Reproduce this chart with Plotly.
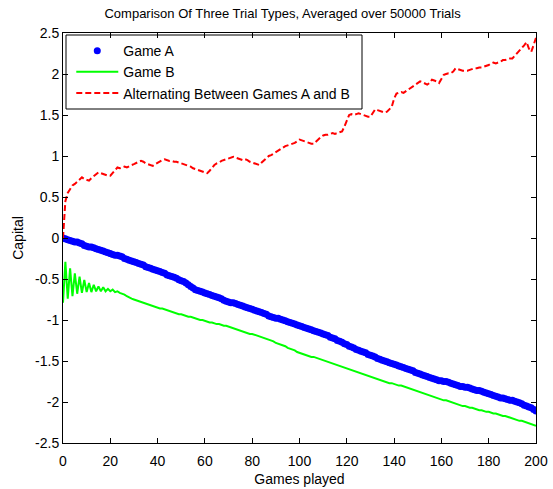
import plotly.graph_objects as go

games = list(range(201))

game_a = [
    0.00, -0.01, -0.02, -0.03, -0.04, -0.05, -0.05, -0.06, -0.07, -0.09,
    -0.10, -0.11, -0.11, -0.12, -0.13, -0.14, -0.15, -0.16, -0.17, -0.18,
    -0.19, -0.20, -0.21, -0.21, -0.22, -0.23, -0.25, -0.26, -0.27, -0.28,
    -0.29, -0.30, -0.31, -0.32, -0.33, -0.35, -0.36, -0.37, -0.38, -0.39,
    -0.40, -0.41, -0.42, -0.43, -0.45, -0.46, -0.47, -0.48, -0.49, -0.51,
    -0.52, -0.53, -0.55, -0.57, -0.59, -0.61, -0.63, -0.64, -0.65, -0.66,
    -0.67, -0.68, -0.69, -0.70, -0.71, -0.72, -0.73, -0.74, -0.76, -0.77,
    -0.78, -0.79, -0.79, -0.80, -0.81, -0.82, -0.83, -0.84, -0.85, -0.86,
    -0.87, -0.88, -0.89, -0.90, -0.91, -0.92, -0.93, -0.95, -0.96, -0.97,
    -0.98, -0.98, -0.99, -1.00, -1.01, -1.02, -1.03, -1.04, -1.05, -1.06,
    -1.07, -1.08, -1.09, -1.10, -1.11, -1.12, -1.13, -1.14, -1.15, -1.16,
    -1.17, -1.18, -1.19, -1.21, -1.22, -1.23, -1.25, -1.26, -1.27, -1.29,
    -1.30, -1.32, -1.33, -1.34, -1.36, -1.37, -1.38, -1.39, -1.40, -1.42,
    -1.43, -1.44, -1.45, -1.47, -1.48, -1.49, -1.50, -1.51, -1.52, -1.53,
    -1.54, -1.55, -1.56, -1.57, -1.58, -1.59, -1.60, -1.61, -1.62, -1.64,
    -1.65, -1.66, -1.67, -1.68, -1.69, -1.70, -1.71, -1.72, -1.73, -1.74,
    -1.74, -1.75, -1.75, -1.76, -1.77, -1.78, -1.79, -1.80, -1.81, -1.81,
    -1.82, -1.82, -1.83, -1.84, -1.85, -1.86, -1.86, -1.87, -1.88, -1.89,
    -1.90, -1.91, -1.92, -1.93, -1.94, -1.95, -1.95, -1.96, -1.97, -1.98,
    -1.98, -1.99, -2.00, -2.01, -2.02, -2.04, -2.05, -2.06, -2.07, -2.09,
    -2.11,
]

game_b = [
    -0.79, -0.29, -0.74, -0.37, -0.71, -0.43, -0.68, -0.47, -0.67, -0.51,
    -0.66, -0.55, -0.66, -0.57, -0.65, -0.59, -0.65, -0.60, -0.65, -0.62,
    -0.65, -0.63, -0.66, -0.65, -0.67, -0.68, -0.69, -0.71, -0.73, -0.74,
    -0.75, -0.76, -0.77, -0.78, -0.79, -0.80, -0.81, -0.82, -0.83, -0.84,
    -0.85, -0.86, -0.86, -0.87, -0.88, -0.89, -0.90, -0.91, -0.92, -0.93,
    -0.93, -0.94, -0.95, -0.96, -0.96, -0.97, -0.98, -0.99, -1.00, -1.00,
    -1.01, -1.02, -1.03, -1.03, -1.04, -1.05, -1.05, -1.06, -1.07, -1.07,
    -1.08, -1.09, -1.10, -1.11, -1.12, -1.13, -1.14, -1.15, -1.16, -1.17,
    -1.17, -1.18, -1.19, -1.20, -1.21, -1.22, -1.23, -1.24, -1.25, -1.26,
    -1.28, -1.29, -1.30, -1.31, -1.32, -1.34, -1.35, -1.36, -1.37, -1.39,
    -1.40, -1.41, -1.42, -1.43, -1.44, -1.45, -1.45, -1.46, -1.47, -1.48,
    -1.49, -1.50, -1.51, -1.52, -1.53, -1.54, -1.55, -1.56, -1.57, -1.58,
    -1.59, -1.60, -1.61, -1.62, -1.63, -1.64, -1.65, -1.66, -1.67, -1.68,
    -1.69, -1.70, -1.71, -1.72, -1.73, -1.74, -1.75, -1.76, -1.77, -1.77,
    -1.78, -1.79, -1.80, -1.80, -1.81, -1.82, -1.83, -1.84, -1.85, -1.86,
    -1.87, -1.88, -1.89, -1.90, -1.91, -1.92, -1.93, -1.94, -1.95, -1.96,
    -1.97, -1.98, -1.98, -1.99, -2.00, -2.01, -2.02, -2.03, -2.04, -2.05,
    -2.05, -2.06, -2.07, -2.07, -2.08, -2.09, -2.10, -2.10, -2.11, -2.12,
    -2.12, -2.13, -2.14, -2.14, -2.15, -2.16, -2.17, -2.17, -2.18, -2.19,
    -2.20, -2.21, -2.22, -2.23, -2.23, -2.24, -2.25, -2.26, -2.27, -2.28,
    -2.29,
]

alternating = [
    0.00, 0.45, 0.55, 0.60, 0.64, 0.66, 0.69, 0.71, 0.74, 0.72,
    0.71, 0.70, 0.73, 0.75, 0.77, 0.80, 0.79, 0.78, 0.77, 0.76,
    0.76, 0.79, 0.83, 0.86, 0.85, 0.86, 0.87, 0.86, 0.88, 0.89,
    0.90, 0.92, 0.93, 0.94, 0.93, 0.91, 0.90, 0.89, 0.88, 0.90,
    0.92, 0.94, 0.95, 0.96, 0.95, 0.94, 0.94, 0.93, 0.93, 0.92,
    0.91, 0.90, 0.89, 0.88, 0.87, 0.85, 0.84, 0.83, 0.82, 0.81,
    0.80, 0.79, 0.82, 0.86, 0.89, 0.91, 0.92, 0.94, 0.95, 0.96,
    0.97, 0.98, 0.99, 0.98, 0.97, 0.96, 0.95, 0.96, 0.95, 0.93,
    0.92, 0.91, 0.90, 0.89, 0.92, 0.95, 0.98, 1.00, 1.01, 1.03,
    1.05, 1.06, 1.08, 1.10, 1.12, 1.13, 1.14, 1.15, 1.16, 1.18,
    1.20, 1.19, 1.18, 1.17, 1.16, 1.15, 1.15, 1.18, 1.21, 1.23,
    1.25, 1.26, 1.26, 1.27, 1.28, 1.27, 1.28, 1.29, 1.30, 1.36,
    1.44, 1.50, 1.51, 1.50, 1.51, 1.52, 1.51, 1.50, 1.49, 1.48,
    1.48, 1.52, 1.57, 1.56, 1.55, 1.54, 1.53, 1.54, 1.57, 1.60,
    1.70, 1.76, 1.77, 1.78, 1.77, 1.79, 1.81, 1.83, 1.85, 1.87,
    1.89, 1.91, 1.90, 1.88, 1.87, 1.89, 1.93, 1.92, 1.91, 1.89,
    1.95, 1.99, 2.00, 2.01, 2.01, 2.03, 2.07, 2.06, 2.05, 2.04,
    2.04, 2.04, 2.05, 2.06, 2.07, 2.07, 2.08, 2.08, 2.09, 2.10,
    2.11, 2.13, 2.14, 2.13, 2.14, 2.15, 2.17, 2.17, 2.18, 2.19,
    2.19, 2.22, 2.25, 2.28, 2.31, 2.35, 2.39, 2.31, 2.27, 2.36,
    2.44,
]

x_ticks = [0, 20, 40, 60, 80, 100, 120, 140, 160, 180, 200]
y_ticks = [-2.5, -2, -1.5, -1, -0.5, 0, 0.5, 1, 1.5, 2, 2.5]
y_tick_labels = ["-2.5", "-2", "-1.5", "-1", "-0.5", "0", "0.5", "1", "1.5", "2", "2.5"]

FONT = "Liberation Sans, Arial, sans-serif"

fig = go.Figure()
fig.add_trace(go.Scatter(
    x=games, y=game_a, name="Game A", mode="markers",
    marker=dict(color="#0000ff", size=7, line=dict(width=0)),
    legendgroup="a",
))
fig.add_trace(go.Scatter(
    x=games, y=game_b, name="Game B", mode="lines",
    line=dict(color="#00ff00", width=2),
    legendgroup="b",
))
fig.add_trace(go.Scatter(
    x=games, y=alternating, name="Alternating Between Games A and B", mode="lines",
    line=dict(color="#ff0000", width=2, dash="6px,3px"),
    legendgroup="c",
))

axis_common = dict(
    showline=True, linecolor="black", linewidth=1, mirror="ticks",
    ticks="inside", ticklen=5, tickcolor="black", tickwidth=1,
    showgrid=False, zeroline=False, automargin=False,
    tickfont=dict(family=FONT, size=14, color="black"),
)

fig.update_layout(
    width=553, height=489,
    margin=dict(l=63, r=17, t=33, b=46),
    paper_bgcolor="white", plot_bgcolor="white",
    font=dict(family=FONT, size=14, color="black"),
    title=dict(
        text="Comparison Of Three Trial Types, Averaged over 50000 Trials",
        x=0.511, xanchor="center", y=1 - 13 / 489, yanchor="middle", yref="container",
        font=dict(family=FONT, size=13, color="black"),
    ),
    xaxis=dict(
        range=[0, 200], tickvals=x_ticks, ticklabelstandoff=5,
        title=dict(text="Games played", standoff=6, font=dict(size=14)),
        **axis_common,
    ),
    yaxis=dict(
        range=[-2.5, 2.5], tickvals=y_ticks, ticktext=y_tick_labels,
        title=dict(text="Capital", standoff=8, font=dict(size=14)),
        **axis_common,
    ),
    legend=dict(
        x=0.0175, y=0.995, xanchor="left", yanchor="top",
        bgcolor="rgba(255,255,255,0)", borderwidth=0,
        font=dict(family=FONT, size=14, color="black"),
        itemwidth=42, tracegroupgap=0,
    ),
    shapes=[dict(
        type="rect", xref="paper", yref="paper",
        x0=3 / 473, x1=299 / 473, y0=1 - 76 / 410, y1=1 - 2 / 410,
        line=dict(color="black", width=1), fillcolor="white", layer="below",
    )],
    showlegend=True,
)

fig.write_html("out.html")
